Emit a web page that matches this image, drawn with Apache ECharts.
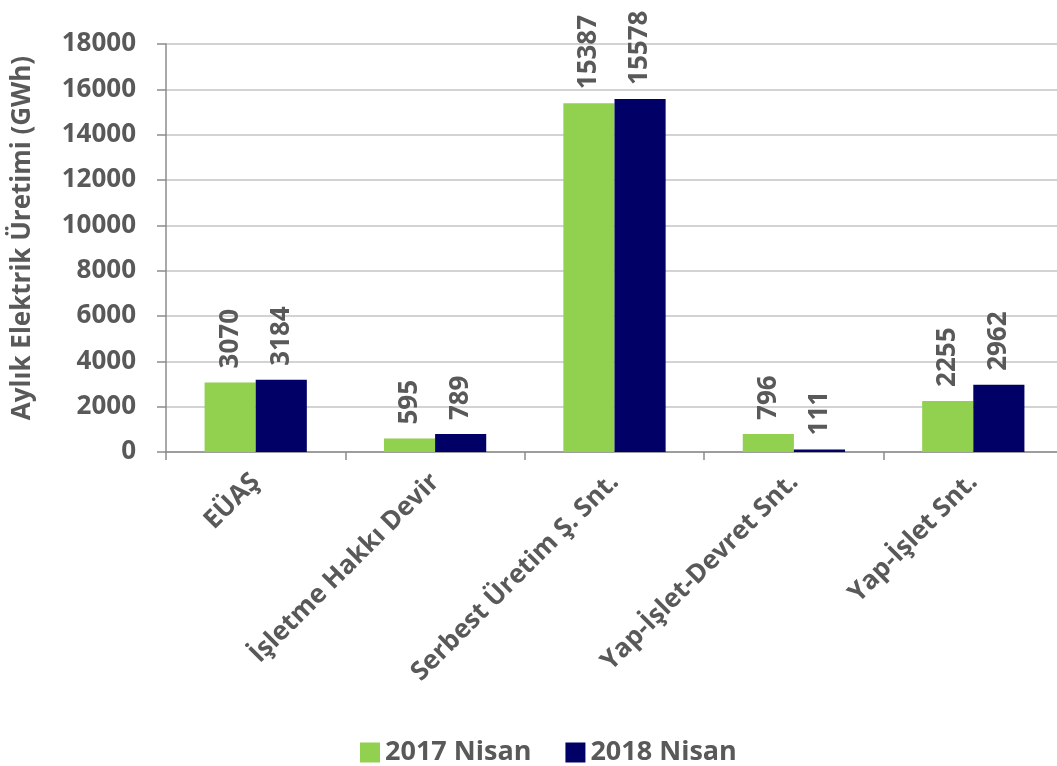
<!DOCTYPE html>
<html>
<head>
<meta charset="utf-8">
<script src="https://cdn.jsdelivr.net/npm/echarts@6/dist/echarts.min.js"></script>
<style>html,body{margin:0;padding:0;background:#fff}#c{width:1057px;height:766px}</style>
</head>
<body>
<div id="c"></div>
<script>
var categories = ['EÜAŞ', 'İşletme Hakkı Devir', 'Serbest Üretim Ş. Snt.', 'Yap-İşlet-Devret Snt.', 'Yap-İşlet Snt.'];
var series2017 = [3070, 595, 15387, 796, 2255];
var series2018 = [3184, 789, 15578, 111, 2962];
var seriesNames = ['2017 Nisan', '2018 Nisan'];
var yTitle = 'Aylık Elektrik Üretimi (GWh)';

var FONT = '"Open Sans", "Noto Sans", sans-serif';
var GRAY = '#595959';
var chart = echarts.init(document.getElementById('c'), null, {renderer: 'canvas'});
var labelOpt = {
  show: true, position: 'top', rotate: 90, align: 'left', verticalAlign: 'middle',
  distance: 14, color: GRAY, fontFamily: FONT, fontWeight: 'bold', fontSize: 26
};
chart.setOption({
  animation: false,
  grid: {left: 166, top: 44, bottom: 314, width: 897, outerBoundsMode: 'none', containLabel: false},
  legend: {
    bottom: -5, left: 355, itemWidth: 20, itemHeight: 20, itemGap: 34,
    icon: 'rect',
    textStyle: {color: GRAY, fontFamily: FONT, fontWeight: 'bold', fontSize: 27},
    data: seriesNames
  },
  xAxis: {
    type: 'category', data: categories,
    axisLine: {lineStyle: {color: '#8c8c8c', width: 1.5}},
    axisTick: {show: true, length: 8, lineStyle: {color: '#8c8c8c', width: 1.5}},
    axisLabel: {rotate: 45, margin: 26, interval: 0, color: GRAY, fontFamily: FONT, fontWeight: 'bold', fontSize: 26}
  },
  yAxis: {
    type: 'value', min: 0, max: 18000, interval: 2000,
    name: yTitle, nameLocation: 'middle', nameGap: 130, nameRotate: 90,
    nameTextStyle: {color: GRAY, fontFamily: FONT, fontWeight: 'bold', fontSize: 26, padding: [0, 0, 0, 20]},
    axisLine: {show: true, lineStyle: {color: '#8c8c8c', width: 1.5}},
    axisTick: {show: true, length: 9, lineStyle: {color: '#8c8c8c', width: 1.5}},
    splitLine: {lineStyle: {color: '#c4c4c4', width: 1.5}},
    axisLabel: {margin: 30, color: GRAY, fontFamily: FONT, fontWeight: 'bold', fontSize: 26,
      formatter: function (v) { return String(v); }}
  },
  series: [
    {name: seriesNames[0], type: 'bar', data: series2017, barGap: '0%', barCategoryGap: '43%',
     itemStyle: {color: '#92D050'}, label: labelOpt},
    {name: seriesNames[1], type: 'bar', data: series2018, barGap: '0%', barCategoryGap: '43%',
     itemStyle: {color: '#000066'}, label: labelOpt}
  ]
});
</script>
</body>
</html>
